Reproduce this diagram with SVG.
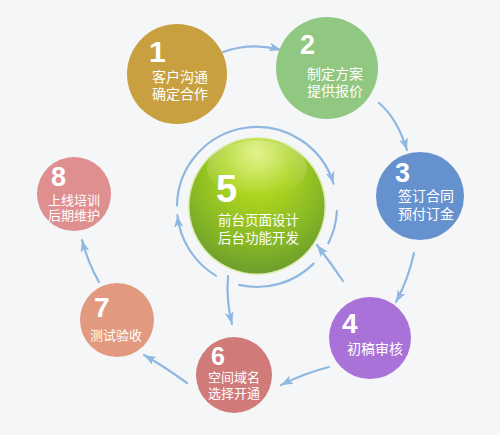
<svg xmlns="http://www.w3.org/2000/svg" width="500" height="435" viewBox="0 0 500 435">
<defs>
<style>
.num{font-family:"Liberation Sans",Arial,sans-serif;font-weight:bold;fill:#fff}
.t{font-family:"Liberation Sans","Noto Sans CJK SC",sans-serif;fill:#fff}
.c{fill:none;stroke:#8fb8e0;stroke-width:2.2;stroke-linecap:round}
</style>
<marker id="ah" markerUnits="userSpaceOnUse" markerWidth="13" markerHeight="9" refX="12" refY="4.5" orient="auto">
<path d="M0,0 L12,4.5 L0,9 L3,4.5 z" fill="#8fb8e0"/>
</marker>
<radialGradient id="g5" cx="50%" cy="35%" r="68%" fx="50%" fy="10%">
<stop offset="0" stop-color="#dcf06a"/>
<stop offset="0.35" stop-color="#acd520"/>
<stop offset="0.75" stop-color="#84b526"/>
<stop offset="1" stop-color="#6a9a2c"/>
</radialGradient>
<linearGradient id="hl" x1="0" y1="0" x2="0" y2="1">
<stop offset="0" stop-color="#fff" stop-opacity="0.3"/>
<stop offset="1" stop-color="#fff" stop-opacity="0"/>
</linearGradient>
</defs>
<rect width="500" height="435" fill="#f5f6f8"/>

<g id="connectors">
<path class="c" d="M177,205.6 A80,80 0 0 1 333.5,183.6" marker-end="url(#ah)"/>
<path class="c" d="M336.9,211.2 A80,80 0 0 1 328.3,243.3"/>
<path class="c" d="M313.6,263.6 A80,80 0 0 1 239,284.9"/>
<path class="c" d="M215.8,275.6 A80,80 0 0 1 177.4,215.4" marker-end="url(#ah)"/>
<path class="c" d="M343,281 Q330,262 317,245" marker-end="url(#ah)"/>
<path class="c" d="M228,276 Q226,300 232,324" marker-end="url(#ah)"/>
<path class="c" d="M223,52 Q252,42 281,50" marker-end="url(#ah)"/>
<path class="c" d="M379,103 Q397,118 407,150" marker-end="url(#ah)"/>
<path class="c" d="M414,253 Q408,280 396,302" marker-end="url(#ah)"/>
<path class="c" d="M329,367 Q305,373 281,385" marker-end="url(#ah)"/>
<path class="c" d="M187,383 Q165,367 144,355" marker-end="url(#ah)"/>
<path class="c" d="M99,282 Q88,263 82,240" marker-end="url(#ah)"/>
</g>

<g id="node1">
<circle cx="177" cy="74" r="50" fill="#c8a03f"/>
<text class="num" x="149" y="62" font-size="30">1</text>
<text class="t" x="152" y="82" font-size="14">客户沟通</text>
<text class="t" x="152" y="99" font-size="14">确定合作</text>
</g>

<g id="node2">
<circle cx="327" cy="68" r="51" fill="#90c882"/>
<text class="num" x="300" y="54" font-size="27">2</text>
<text class="t" x="307" y="79" font-size="14">制定方案</text>
<text class="t" x="307" y="96" font-size="14">提供报价</text>
</g>

<g id="node3">
<circle cx="420" cy="196" r="44" fill="#6591cf"/>
<text class="num" x="395" y="182" font-size="27">3</text>
<text class="t" x="398" y="201" font-size="14">签订合同</text>
<text class="t" x="398" y="219" font-size="14">预付订金</text>
</g>

<g id="node4">
<circle cx="370" cy="338" r="41" fill="#a872d8"/>
<text class="num" x="342" y="333" font-size="28">4</text>
<text class="t" x="347" y="354" font-size="14">初稿审核</text>
</g>

<g id="node5">
<circle cx="257" cy="206" r="69" fill="#dcecb0"/>
<circle cx="257" cy="206" r="67.5" fill="url(#g5)"/>
<ellipse cx="257" cy="168" rx="50" ry="28" fill="url(#hl)"/>
<text class="num" x="216" y="202" font-size="38">5</text>
<text class="t" x="218" y="225" font-size="13.5">前台页面设计</text>
<text class="t" x="218" y="243" font-size="13.5">后台功能开发</text>
</g>

<g id="node6">
<circle cx="234" cy="375" r="38" fill="#d07a7a"/>
<text class="num" x="211" y="365" font-size="25">6</text>
<text class="t" x="208" y="382" font-size="13">空间域名</text>
<text class="t" x="208" y="398" font-size="13">选择开通</text>
</g>

<g id="node7">
<circle cx="117" cy="320" r="37" fill="#e19a80"/>
<text class="num" x="94" y="317" font-size="28">7</text>
<text class="t" x="90" y="340" font-size="13">测试验收</text>
</g>

<g id="node8">
<circle cx="74" cy="194" r="37" fill="#df8f90"/>
<text class="num" x="51" y="186" font-size="27">8</text>
<text class="t" x="48" y="205" font-size="13">上线培训</text>
<text class="t" x="48" y="220" font-size="13">后期维护</text>
</g>
</svg>
